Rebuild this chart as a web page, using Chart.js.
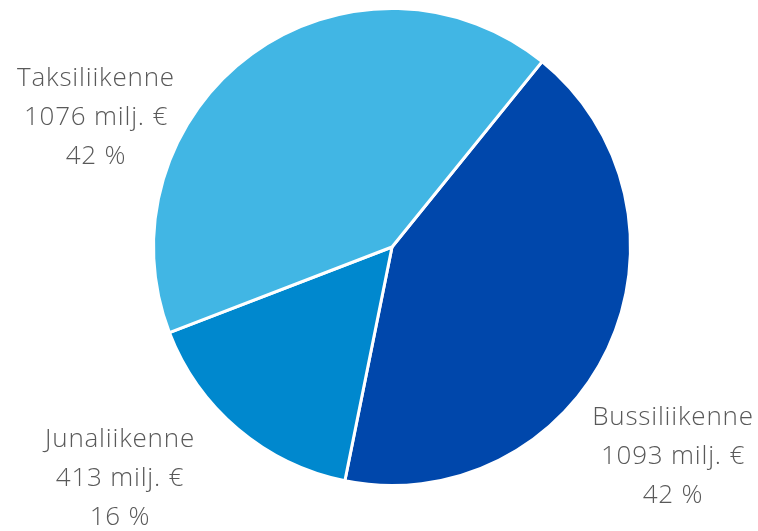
<!DOCTYPE html>
<html lang="fi">
<head>
  <meta charset="UTF-8" />
  <title>Liikenne</title>
  <script src="https://cdn.jsdelivr.net/npm/chart.js"></script>
  <style>
    body { margin: 0; background: #fff; }
    .wrap { width: 758px; height: 531px; }
  </style>
</head>
<body>
  <div class="wrap"><canvas id="pie"></canvas></div>
  <script>
    const categories = ['Bussiliikenne', 'Junaliikenne', 'Taksiliikenne'];
    const values = [1093, 413, 1076];
    const shares = ['42 %', '16 %', '42 %'];
    const colors = ['#0047AB', '#0088CE', '#41B6E4'];

    // where each three-line label is centred (first line)
    const labelPos = [
      { x: 673, y: 418 },
      { x: 120, y: 440 },
      { x: 96, y: 79 }
    ];

    const labelPlugin = {
      id: 'labels',
      afterDraw(chart) {
        const ctx = chart.ctx;
        ctx.save();
        ctx.fillStyle = '#595959';
        ctx.font = '300 26px "Open Sans", sans-serif';
        ctx.letterSpacing = '0.8px';
        ctx.textAlign = 'center';
        ctx.textBaseline = 'middle';
        categories.forEach((c, i) => {
          const p = labelPos[i];
          const lines = [c, values[i] + ' milj. €', shares[i]];
          lines.forEach((t, j) => ctx.fillText(t, p.x, p.y + j * 39));
        });
        ctx.restore();
      }
    };

    new Chart(document.getElementById('pie'), {
      type: 'pie',
      data: {
        labels: categories,
        datasets: [{
          data: values,
          backgroundColor: colors,
          borderColor: '#ffffff',
          borderWidth: 3
        }]
      },
      options: {
        responsive: true,
        maintainAspectRatio: false,
        animation: false,
        rotation: 39,
        layout: { padding: { top: 6, bottom: 43, left: 152, right: 126 } },
        plugins: {
          legend: { display: false },
          tooltip: { enabled: false }
        }
      },
      plugins: [labelPlugin]
    });
  </script>
</body>
</html>
